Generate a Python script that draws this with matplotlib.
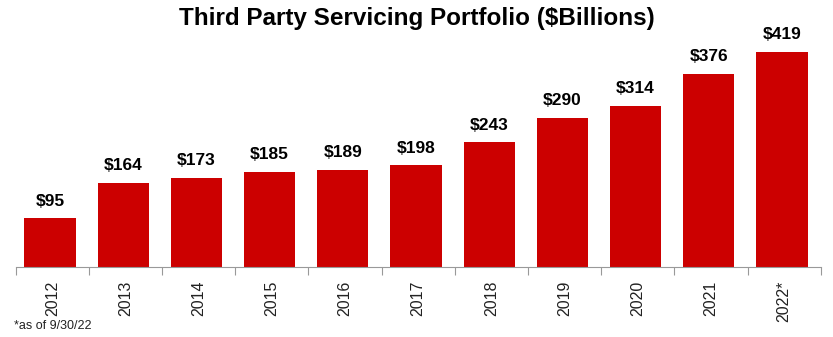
import matplotlib

matplotlib.use("Agg")
import matplotlib.pyplot as plt
import numpy as np

years = ["2012", "2013", "2014", "2015", "2016", "2017", "2018", "2019", "2020", "2021", "2022*"]
portfolio = [95, 164, 173, 185, 189, 198, 243, 290, 314, 376, 419]

plt.rcParams["font.family"] = ["Liberation Sans", "DejaVu Sans"]

W, H = 833, 337
fig = plt.figure(figsize=(W / 100, H / 100), dpi=100)
ax = fig.add_axes([15.7 / W, (H - 267) / H, 805 / W, 231 / H])

x = np.arange(len(years))
bars = ax.bar(x - 0.03, portfolio, width=0.70, color="#CC0000")
ax.set_xlim(-0.5, len(years) - 0.5)
ax.set_ylim(0, 450)

for rect, val in zip(bars, portfolio):
    ax.annotate(f"${val}", (rect.get_x() + rect.get_width() / 2, val),
                xytext=(0, 7), textcoords="offset points", ha="center", va="bottom",
                fontsize=12.5, fontweight="bold", color="black")

ax.set_xticks(x)
ax.set_xticklabels(years, rotation=90, fontsize=11.5, color="#222222")
ax.tick_params(axis="x", which="major", length=0, pad=10)
ax.set_xticks(np.arange(len(years) + 1) - 0.5, minor=True)
ax.tick_params(axis="x", which="minor", length=6, color="#999999", width=0.8)
ax.set_yticks([])
for s in ("top", "right", "left"):
    ax.spines[s].set_visible(False)
ax.spines["bottom"].set_color("#999999")
ax.spines["bottom"].set_linewidth(0.8)

fig.text(0.5, 1 - 18 / H, "Third Party Servicing Portfolio ($Billions)", ha="center", va="center",
         fontsize=17.5, fontweight="bold")
fig.text(14 / W, 1 - 326 / H, "*as of 9/30/22", ha="left", va="center", fontsize=9, color="#222222")

fig.savefig("out.png", dpi=100, facecolor="white")
